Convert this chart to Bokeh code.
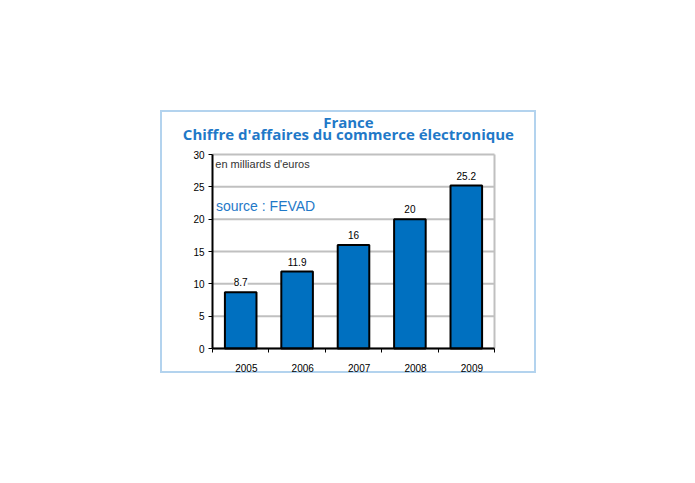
from bokeh.plotting import figure
from bokeh.models import (ColumnDataSource, LabelSet, Label, FixedTicker,
                          Spacer, Range1d)
from bokeh.core.properties import value
from bokeh.layouts import column, row
from bokeh.embed import file_html
from bokeh.resources import INLINE

# ---- data ----
years = ["2005", "2006", "2007", "2008", "2009"]
values = [8.7, 11.9, 16, 20, 25.2]
y_ticks = [0, 5, 10, 15, 20, 25, 30]
title_top = "France"
title_main = "Chiffre d'affaires du commerce électronique"
unit_note = "en milliards d'euros"
source_note = "source : FEVAD"

BLUE = "#0070c0"
TITLE_BLUE = "#1f79c8"
GRID = "#c0c0c0"
SLOT = 10  # width of one category slot in x units
Y_MAX = y_ticks[-1]

centers = [SLOT * i + SLOT / 2 for i in range(len(years))]
label_pos = [SLOT * i + 6 for i in range(len(years))]
bounds = [SLOT * i for i in range(len(years) + 1)]
x_end = SLOT * len(years)

# layout of the plot area inside the 376x263 box (pixels)
W, H = 376, 263
LEFT, RIGHT, TOP, BOTTOM = 52, 42, 44, 25
x_px = (W - LEFT - RIGHT) / x_end
y_px = (H - TOP - BOTTOM) / Y_MAX

src = ColumnDataSource(dict(x=centers, top=values,
                            txt=[f"{v:g}" for v in values]))

p = figure(width=W, height=H, output_backend="svg", toolbar_location=None,
           x_range=Range1d(-LEFT / x_px, x_end + RIGHT / x_px),
           y_range=Range1d(-BOTTOM / y_px, Y_MAX + TOP / y_px),
           min_border=0, background_fill_color=None, border_fill_color=None)
p.styles = {"box-shadow": "inset 0 0 0 2px #b3d3ee", "background": "white"}
p.outline_line_color = None
p.xgrid.grid_line_color = None
p.ygrid.grid_line_color = None

# grid lines (0..30) and right border of the plot area
p.segment(x0=0, x1=x_end, y0=y_ticks, y1=y_ticks, line_color=GRID,
          line_width=2)
p.segment(x0=x_end, x1=x_end, y0=0, y1=Y_MAX, line_color=GRID, line_width=2)

p.vbar(x="x", top="top", width=5.6, bottom=0, source=src, fill_color=BLUE,
       line_color="black", line_width=2)

p.add_layout(LabelSet(x="x", y="top", text="txt", source=src, y_offset=6,
                      text_align="center", text_baseline="bottom",
                      text_font=value("Liberation Sans"),
                      text_font_size=value("10px"),
                      text_color="black", background_fill_color="white"))

p.add_layout(Label(x=0.5, y=28.6, text=unit_note, text_baseline="middle",
                   text_font="Liberation Sans", text_font_size="11px",
                   text_color="#333333"))
p.add_layout(Label(x=0.6, y=22, text=source_note, text_baseline="middle",
                   text_font="Liberation Sans", text_font_size="14px",
                   text_color=TITLE_BLUE))

# titles
title_style = dict(text_align="center", text_baseline="middle",
                   text_font="Open Sans", text_font_style="bold",
                   text_font_size="15px", text_color=TITLE_BLUE)
p.add_layout(Label(x=24.1, y=35.1, text=title_top, **title_style))
p.add_layout(Label(x=24.1, y=33.1, text=title_main, **title_style))

# y axis
p.yaxis.fixed_location = 0
p.yaxis.ticker = FixedTicker(ticks=y_ticks)
p.yaxis.bounds = (0, Y_MAX)
p.yaxis.axis_line_color = "black"
p.yaxis.axis_line_width = 2
p.yaxis.major_tick_out = 4
p.yaxis.major_tick_in = 0
p.yaxis.major_tick_line_width = 1
p.yaxis.minor_tick_line_color = None
p.yaxis.major_label_standoff = 4
p.yaxis.major_label_text_font = "Liberation Sans"
p.yaxis.major_label_text_font_size = "10px"
p.yaxis.major_label_text_color = "black"

# x axis
p.xaxis.fixed_location = 0
p.xaxis.ticker = FixedTicker(ticks=label_pos, minor_ticks=bounds)
p.xaxis.bounds = (0, x_end)
p.xaxis.major_label_overrides = {lp: y for lp, y in zip(label_pos, years)}
p.xaxis.axis_line_color = "black"
p.xaxis.axis_line_width = 2
p.xaxis.major_tick_out = 0
p.xaxis.major_tick_in = 0
p.xaxis.major_tick_line_color = None
p.xaxis.minor_tick_out = 4
p.xaxis.minor_tick_in = 0
p.xaxis.minor_tick_line_color = "black"
p.xaxis.minor_tick_line_width = 1
p.xaxis.major_label_standoff = 11
p.xaxis.major_label_text_font = "Liberation Sans"
p.xaxis.major_label_text_font_size = "10px"
p.xaxis.major_label_text_color = "black"

layout = column(Spacer(height=110), row(Spacer(width=160), p))

open("out.html", "w").write(file_html(layout, INLINE))
